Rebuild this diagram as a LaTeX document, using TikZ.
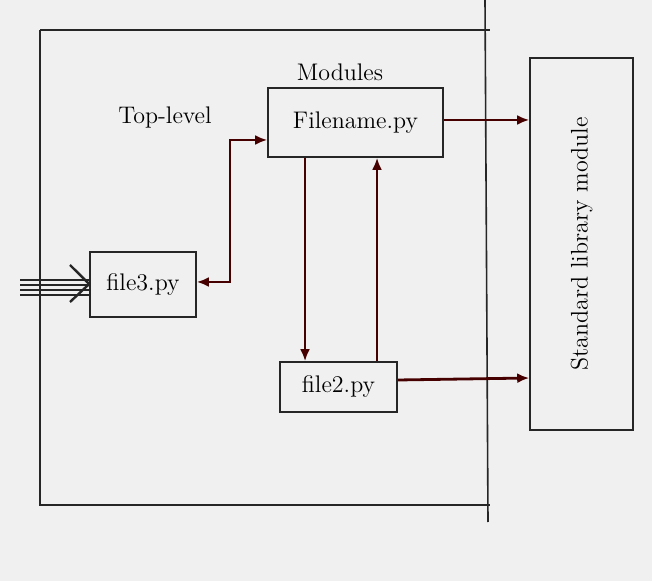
\documentclass[tikz,border=0pt]{standalone}
\usetikzlibrary{arrows.meta}
\begin{document}
\begin{tikzpicture}[x=0.5pt,y=-0.5pt,
  ink/.style={draw=black!85, line width=0.8pt},
  arr/.style={draw=black!30!red!40!black, line width=1.4pt, -{Latex[length=6pt,width=5pt]}},
  lbl/.style={font=\large}]
\fill[gray!12] (0,0) rectangle (652,581);
\useasboundingbox (0,0) rectangle (652,581);
% outer frame
\draw[ink] (40,30) -- (490,30);
\draw[ink] (40,30) -- (40,505) -- (490,505);
\draw[ink] (485,0) -- (488,522);
% boxes
\node[ink, minimum width=87.5pt, minimum height=34.5pt, inner sep=0pt, lbl] (fn) at (355.5,122.5) {Filename.py};
\node[lbl] (mod) at (340,72) {Modules};
\node[lbl] (top) at (165,118) {Top-level};
\node[ink, minimum width=51.5pt, minimum height=186pt, inner sep=0pt] (std) at (581.5,244) {};
\node[lbl, rotate=90] (stdt) at (581.5,244) {Standard library module};
\node[ink, minimum width=53pt, minimum height=32.5pt, inner sep=0pt, lbl] (f3) at (143,284.5) {file3.py};
\node[ink, minimum width=58.5pt, minimum height=25pt, inner sep=0pt, lbl] (f2) at (338.5,387) {file2.py};
% connectors
\coordinate (c1) at (230,282);
\coordinate (c2) at (230,140);
\draw[arr, {Latex[length=6pt,width=5pt]}-{Latex[length=6pt,width=5pt]}] (f3.east |- c1) -- (c1) -- (c2) -- (fn.west |- c2);
\draw[arr] (fn.east |- 0,120) -- (std.west |- 0,120);
\draw[arr] (fn.south -| 305,0) -- (f2.north -| 305,0);
\draw[arr] (f2.north -| 377,0) -- (fn.south -| 377,0);
\draw[arr] (f2.east |- 0,380) -- (std.west |- 0,378);
\foreach \yy in {280,285,290,295}{
  \coordinate (s\yy) at (20,\yy);
  \draw[ink, line width=1pt] (s\yy) -- (f3.west |- 0,\yy);
}
\draw[ink, line width=1.2pt] (70,265) -- (f3.west |- 0,284) -- (70,302);
\end{tikzpicture}
\end{document}
